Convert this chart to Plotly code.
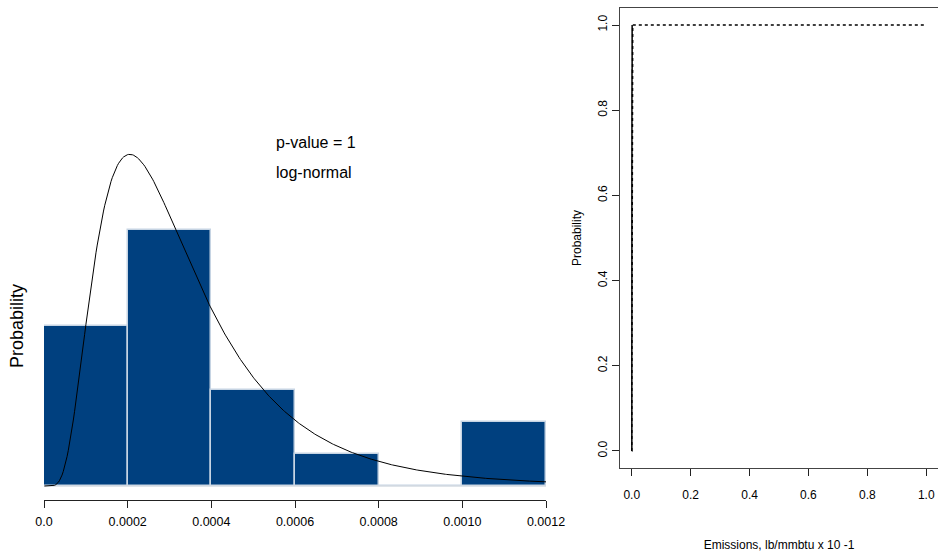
import math
import numpy as np
import plotly.graph_objects as go

# ---- data ----
bin_edges = [0.0, 0.0002, 0.0004, 0.0006, 0.0008, 0.0010, 0.0012]
bin_counts = [5, 8, 3, 1, 0, 2]
meanlog = -8.136
sdlog = 0.597
x_tick_vals = [0.0, 0.0002, 0.0004, 0.0006, 0.0008, 0.0010, 0.0012]
x_tick_text = ["0.0", "0.0002", "0.0004", "0.0006", "0.0008", "0.0010", "0.0012"]
cdf_tick_vals = [0.0, 0.2, 0.4, 0.6, 0.8, 1.0]
cdf_tick_text = ["0.0", "0.2", "0.4", "0.6", "0.8", "1.0"]

n_total = sum(bin_counts)
widths = [bin_edges[i + 1] - bin_edges[i] for i in range(len(bin_counts))]
centers = [(bin_edges[i] + bin_edges[i + 1]) / 2 for i in range(len(bin_counts))]
density = [c / (n_total * w) for c, w in zip(bin_counts, widths)]


def lnorm_pdf(x):
    x = np.asarray(x, dtype=float)
    return np.exp(-((np.log(x) - meanlog) ** 2) / (2 * sdlog ** 2)) / (x * sdlog * math.sqrt(2 * math.pi))


def lnorm_cdf(x):
    out = []
    for v in x:
        if v <= 0:
            out.append(0.0)
        else:
            out.append(0.5 * (1 + math.erf((math.log(v) - meanlog) / (sdlog * math.sqrt(2)))))
    return out


xs_pdf = np.linspace(bin_edges[0] + 1e-6, bin_edges[-1], 400)
ys_pdf = lnorm_pdf(xs_pdf)

cum = np.cumsum([0] + bin_counts) / n_total
xs_cdf = np.concatenate([np.linspace(0, 0.005, 300), np.linspace(0.005, 1.0, 100)])
ys_cdf = lnorm_cdf(xs_cdf)

W, H = 938, 558
fig = go.Figure()

# baseline of histogram (empty bins show as a light line)
fig.add_trace(go.Scatter(x=[bin_edges[0], bin_edges[-1]], y=[0, 0], mode="lines",
                         line=dict(color="#d4dbe2", width=1.5), showlegend=False,
                         hoverinfo="skip", xaxis="x", yaxis="y"))
fig.add_trace(go.Bar(x=centers, y=density, width=widths,
                     marker=dict(color="#00407f", line=dict(color="#c6d4e3", width=1.5)),
                     showlegend=False, xaxis="x", yaxis="y"))
fig.add_trace(go.Scatter(x=xs_pdf, y=ys_pdf, mode="lines", line=dict(color="black", width=1),
                         showlegend=False, xaxis="x", yaxis="y"))

# right panel: empirical CDF and fitted CDF
fig.add_trace(go.Scatter(x=bin_edges, y=cum, mode="lines", line=dict(color="black", width=1.5, shape="hv"),
                         showlegend=False, xaxis="x2", yaxis="y2"))
fig.add_trace(go.Scatter(x=xs_cdf, y=ys_cdf, mode="lines", line=dict(color="black", width=1.5, dash="dot"),
                         showlegend=False, xaxis="x2", yaxis="y2"))

px_per_unit = 256 / (8 / (19 * 0.0002))
y_bottom = -(14 / px_per_unit)
y_top = (486 - 100) / px_per_unit

font = "Liberation Sans, Arial, Helvetica, sans-serif"
fig.update_layout(
    width=W, height=H,
    margin=dict(l=0, r=0, t=0, b=0, autoexpand=False),
    paper_bgcolor="white", plot_bgcolor="white",
    font=dict(family=font, size=12, color="black"),
    bargap=0,
    xaxis=dict(domain=[44 / W, 546 / W], range=[0, 0.0012], tickvals=x_tick_vals, ticktext=x_tick_text,
               showline=True, linecolor="#222", linewidth=1, ticks="outside", ticklen=7, tickcolor="#222",
               ticklabelstandoff=3,
               showgrid=False, zeroline=False, tickfont=dict(size=12.5), anchor="y", automargin=False),
    yaxis=dict(domain=[(H - 500) / H, (H - 100) / H], range=[y_bottom, y_top], visible=False,
               showgrid=False, zeroline=False, anchor="x", automargin=False),
    xaxis2=dict(domain=[620 / W, 1.0], range=[-0.04, 1.04], tickvals=cdf_tick_vals, ticktext=cdf_tick_text,
                showline=True, mirror=True, linecolor="#444", linewidth=1, ticks="outside", ticklen=7,
                ticklabelstandoff=9,
                tickcolor="#222", showgrid=False, zeroline=False, anchor="y2", automargin=False,
                title=dict(text="Emissions, lb/mmbtu x 10 -1", font=dict(size=12), standoff=39)),
    yaxis2=dict(domain=[(H - 468) / H, (H - 8) / H], range=[-0.04, 1.04], tickvals=cdf_tick_vals,
                ticktext=cdf_tick_text, tickangle=-90, showline=True, linecolor="#444", linewidth=1,
                ticks="outside", ticklen=7, tickcolor="#222", showgrid=False, zeroline=False, anchor="x2",
                automargin=False,
                title=dict(text="Probability", font=dict(size=12), standoff=12)),
    annotations=[
        dict(text="Probability", x=17 / W, y=1 - 326 / H, xref="paper", yref="paper", textangle=-90,
             showarrow=False, font=dict(size=18), xanchor="center", yanchor="middle"),
        dict(text="p-value = 1", x=274 / W, y=1 - 143 / H, xref="paper", yref="paper",
             showarrow=False, font=dict(size=16), xanchor="left", yanchor="middle"),
        dict(text="log-normal", x=274 / W, y=1 - 172 / H, xref="paper", yref="paper",
             showarrow=False, font=dict(size=16), xanchor="left", yanchor="middle"),
    ],
)

fig.write_html("out.html", config={"displayModeBar": False},
               post_script="document.body.style.margin='0';document.body.style.overflow='hidden';")
